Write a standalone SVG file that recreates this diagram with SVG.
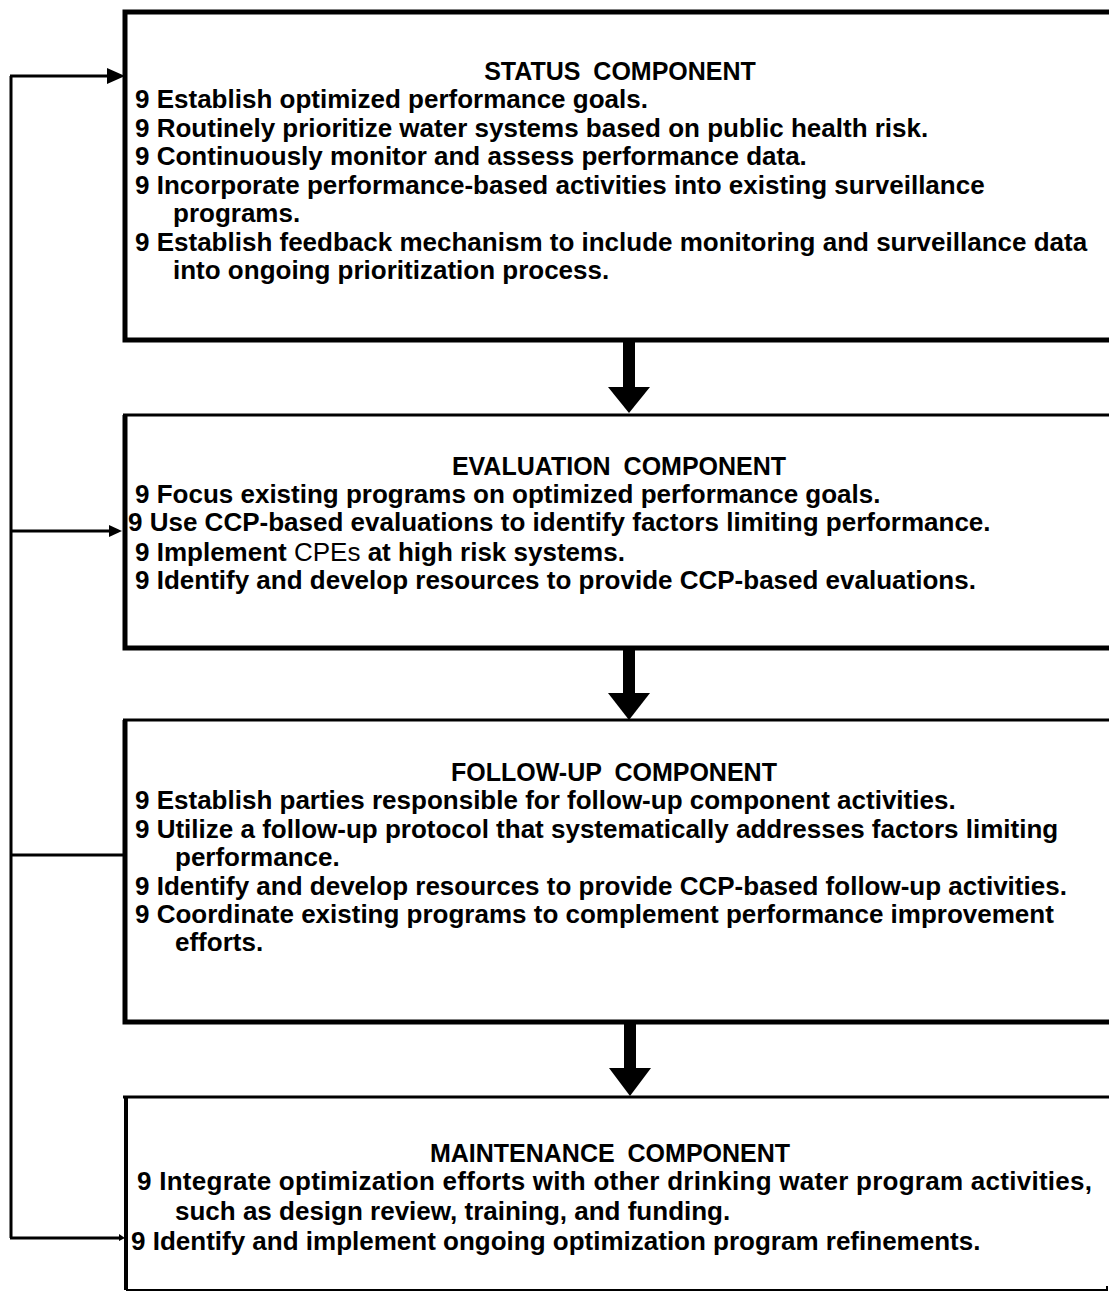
<svg xmlns="http://www.w3.org/2000/svg" width="1109" height="1292" viewBox="0 0 1109 1292">
<defs>
<style>
.t{font-family:"Liberation Sans",Arial,sans-serif;font-weight:bold;font-size:26px;fill:#000}
.h{font-family:"Liberation Sans",Arial,sans-serif;font-weight:bold;font-size:25px;fill:#000;text-anchor:middle;word-spacing:6px}
.n{font-weight:normal}
.edge{stroke:#000;fill:none}
.fb{stroke:#000;stroke-width:3;fill:none}
</style>
</defs>
<rect width="1109" height="1292" fill="#fff"/>

<g id="status">
<path class="edge" stroke-width="5" d="M1112,12 H125 V340 H1112"/>
<text class="h" x="620" y="80">STATUS COMPONENT</text>
<text class="t" x="135" y="108">9 Establish optimized performance goals.</text>
<text class="t" x="135" y="137">9 Routinely prioritize water systems based on public health risk.</text>
<text class="t" x="135" y="165">9 Continuously monitor and assess performance data.</text>
<text class="t" x="135" y="194">9 Incorporate performance-based activities into existing surveillance</text>
<text class="t" x="173" y="222">programs.</text>
<text class="t" x="135" y="251">9 Establish feedback mechanism to include monitoring and surveillance data</text>
<text class="t" x="173" y="279">into ongoing prioritization process.</text>
</g>

<g id="evaluation">
<path class="edge" stroke-width="5" d="M1112,648 H125 V415"/>
<path class="edge" stroke-width="3" d="M123,415 H1112"/>
<text class="h" x="619" y="475">EVALUATION COMPONENT</text>
<text class="t" x="135" y="503">9 Focus existing programs on optimized performance goals.</text>
<text class="t" x="128" y="531">9 Use CCP-based evaluations to identify factors limiting performance.</text>
<text class="t" x="135" y="561">9 Implement <tspan class="n">CPEs</tspan> at high risk systems.</text>
<text class="t" x="135" y="589">9 Identify and develop resources to provide CCP-based evaluations.</text>
</g>

<g id="followup">
<path class="edge" stroke-width="5" d="M1112,1022 H125 V720"/>
<path class="edge" stroke-width="3" d="M123,720 H1112"/>
<text class="h" x="614" y="781">FOLLOW-UP COMPONENT</text>
<text class="t" x="135" y="809">9 Establish parties responsible for follow-up component activities.</text>
<text class="t" x="135" y="838">9 Utilize a follow-up protocol that systematically addresses factors limiting</text>
<text class="t" x="175" y="866">performance.</text>
<text class="t" x="135" y="895">9 Identify and develop resources to provide CCP-based follow-up activities.</text>
<text class="t" x="135" y="923">9 Coordinate existing programs to complement performance improvement</text>
<text class="t" x="175" y="951">efforts.</text>
</g>

<g id="maintenance">
<path class="edge" stroke-width="4" d="M126,1097 V1290"/>
<path class="edge" stroke-width="3" d="M123,1097 H1112"/>
<path class="edge" stroke-width="2" d="M126,1290 H1107 V1286"/>
<text class="h" x="610" y="1162">MAINTENANCE COMPONENT</text>
<text class="t" x="137" y="1190" textLength="955" lengthAdjust="spacing">9 Integrate optimization efforts with other drinking water program activities,</text>
<text class="t" x="175" y="1220">such as design review, training, and funding.</text>
<text class="t" x="131" y="1250">9 Identify and implement ongoing optimization program refinements.</text>
</g>

<g id="connectors">
<g fill="#000">
<rect x="623" y="340" width="12" height="48"/>
<path d="M608,387 H650 L629,413 Z"/>
<rect x="623" y="648" width="12" height="46"/>
<path d="M608,693 H650 L629,720 Z"/>
<rect x="624" y="1022" width="12" height="47"/>
<path d="M609,1068 H651 L630,1096 Z"/>
</g>
<path class="fb" d="M11,1238 V76"/>
<path class="fb" d="M10,76 H108"/>
<path d="M107,68 L125,76 L107,84 Z" fill="#000"/>
<path class="fb" d="M11,531 H110"/>
<path d="M109,525 L122,531 L109,537 Z" fill="#000"/>
<path class="fb" d="M11,855 H123"/>
<path class="fb" d="M10,1238 H121"/>
<path d="M119,1234 L125,1238 L119,1241 Z" fill="#000"/>
</g>
</svg>
